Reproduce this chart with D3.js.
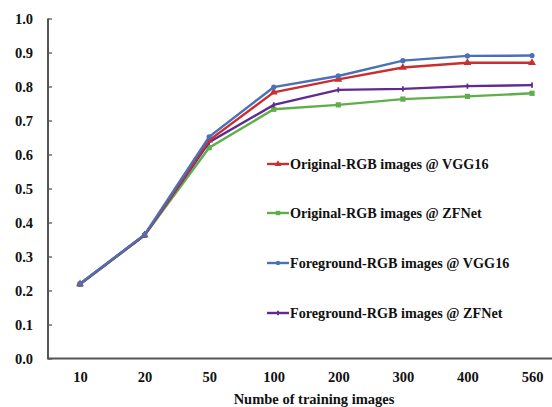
<!doctype html>
<html>
<head>
<script src="https://d3js.org/d3.v7.min.js"></script>
<style>
  body { margin: 0; background: #fff; }
  text { font-family: "Liberation Serif", "Times New Roman", serif; font-weight: bold; fill: #111; }
</style>
</head>
<body>
<svg id="chart" width="552" height="407"></svg>
<script>
var categories = ["10", "20", "50", "100", "200", "300", "400", "560"];
var yTicks = [0, 0.1, 0.2, 0.3, 0.4, 0.5, 0.6, 0.7, 0.8, 0.9, 1.0];

var origVgg  = [0.219, 0.363, 0.642, 0.783, 0.821, 0.856, 0.870, 0.870];
var origZf   = [0.218, 0.362, 0.620, 0.733, 0.746, 0.763, 0.771, 0.780];
var foreVgg  = [0.220, 0.364, 0.652, 0.798, 0.831, 0.876, 0.890, 0.891];
var foreZf   = [0.219, 0.363, 0.636, 0.746, 0.790, 0.793, 0.801, 0.804];

var seriesNames = ["Original-RGB images @ VGG16", "Original-RGB images @ ZFNet",
                   "Foreground-RGB images @ VGG16", "Foreground-RGB images @ ZFNet"];
var seriesColors = ["#c8302f", "#5fae4a", "#4a70b6", "#602a92"];
var seriesMarkers = ["triangle", "square", "circle", "plus"];
var seriesValues = [origVgg, origZf, foreVgg, foreZf];

var svg = d3.select("#chart");

var x = d3.scalePoint().domain(categories).range([80, 532]);
var y = d3.scaleLinear().domain([0, 1]).range([358.5, 18.5]);

// y axis with inward ticks
var yAxis = svg.append("g").attr("transform", "translate(48,0)")
  .call(d3.axisRight(y).tickValues(yTicks).tickSize(4).tickFormat(d3.format(".1f")));
yAxis.select(".domain").remove();
yAxis.selectAll("line").attr("stroke", "#555").attr("stroke-width", 1.3);
yAxis.selectAll("text").attr("x", -15).attr("text-anchor", "end")
  .style("font-size", "14.5px").attr("dy", "0.35em");
svg.append("line").attr("x1", 48).attr("x2", 48).attr("y1", y(1)).attr("y2", y(0))
  .attr("stroke", "#555").attr("stroke-width", 2);

// x axis
var xAxis = svg.append("g").attr("transform", "translate(0," + y(0) + ")")
  .call(d3.axisBottom(x).tickSize(0));
xAxis.select(".domain").remove();
xAxis.selectAll("text").attr("y", 18).attr("dy", "0.35em").style("font-size", "14.5px");
svg.append("line").attr("x1", 47).attr("x2", 552).attr("y1", y(0)).attr("y2", y(0))
  .attr("stroke", "#555").attr("stroke-width", 2);

svg.append("text").attr("x", 314).attr("y", 404).attr("text-anchor", "middle")
  .style("font-size", "14.5px").text("Numbe of training images");

function marker(g, type, cx, cy, color, s) {
  if (type === "triangle") {
    g.append("path").attr("d", d3.symbol(d3.symbolTriangle, s * s * 4)()).attr("transform", "translate(" + cx + "," + cy + ")").attr("fill", color);
  } else if (type === "square") {
    g.append("rect").attr("x", cx - s).attr("y", cy - s).attr("width", 2 * s).attr("height", 2 * s).attr("fill", color);
  } else if (type === "circle") {
    g.append("circle").attr("cx", cx).attr("cy", cy).attr("r", s).attr("fill", color);
  } else {
    g.append("line").attr("x1", cx).attr("x2", cx).attr("y1", cy - s).attr("y2", cy + s).attr("stroke", color).attr("stroke-width", 1.8);
  }
}

var line = d3.line().x(function(d, i) { return x(categories[i]); }).y(function(d) { return y(d); });

// draw order: green, purple, red, blue
[1, 3, 0, 2].forEach(function(k) {
  var g = svg.append("g");
  g.append("path").datum(seriesValues[k]).attr("d", line).attr("fill", "none")
    .attr("stroke", seriesColors[k]).attr("stroke-width", 2.4);
  seriesValues[k].forEach(function(v, i) {
    marker(g, seriesMarkers[k], x(categories[i]), y(v), seriesColors[k], 2.6);
  });
});

// legend
var legY = [164, 213, 263, 313];
seriesNames.forEach(function(name, k) {
  var g = svg.append("g");
  g.append("line").attr("x1", 267).attr("x2", 289).attr("y1", legY[k]).attr("y2", legY[k])
    .attr("stroke", seriesColors[k]).attr("stroke-width", 2.4);
  marker(g, seriesMarkers[k], 278, legY[k], seriesColors[k], 2.2);
  g.append("text").attr("x", 290).attr("y", legY[k]).attr("dy", "0.35em")
    .style("font-size", "14.2px").text(name);
});
</script>
</body>
</html>
